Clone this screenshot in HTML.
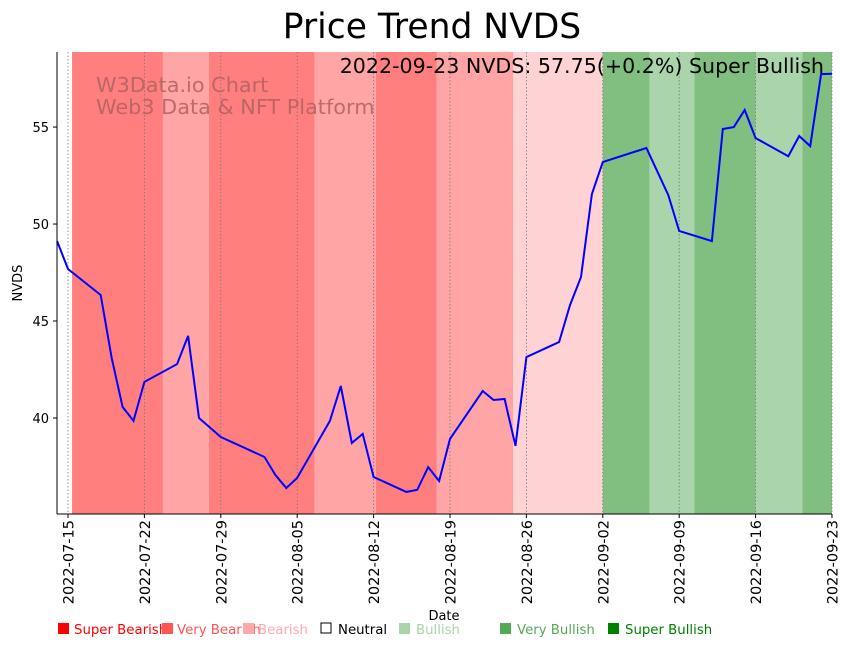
<!DOCTYPE html>
<html><head><meta charset="utf-8"><style>
body{margin:0;background:#fff;width:848px;height:646px;overflow:hidden;font-family:"Liberation Sans","DejaVu Sans",sans-serif}
</style></head><body>
<svg id="c" width="848" height="646" xmlns="http://www.w3.org/2000/svg" font-family="DejaVu Sans, Liberation Sans, sans-serif">
<text x="432" y="38" font-size="34.5" text-anchor="middle">Price Trend NVDS</text>
<g id="bands"></g>
<g id="grid"></g>
<text x="96" y="92" font-size="20.8" fill="#b06060" fill-opacity="0.85">W3Data.io Chart</text>
<text x="96" y="114" font-size="20.8" fill="#b06060" fill-opacity="0.85">Web3 Data &amp; NFT Platform</text>
<path id="line" fill="none" stroke="#0000ff" stroke-width="2"/>
<text x="824" y="73" font-size="20.6" text-anchor="end">2022-09-23 NVDS: 57.75(+0.2%) Super Bullish</text>
<g id="axes"></g>
<text x="22" y="283" font-size="13" text-anchor="middle" transform="rotate(-90 22 283)">NVDS</text>
<text x="444" y="620" font-size="13" text-anchor="middle">Date</text>
<g font-size="13.3">
<rect x="58" y="623" width="11" height="11" fill="#ff0000"/><text x="74" y="634" fill="#ff0000">Super Bearish</text>
<rect x="162" y="623" width="11" height="11" fill="#ff5555"/><text x="177" y="634" fill="#ff5555">Very Bearish</text>
<rect x="243" y="623" width="11" height="11" fill="#ffaaaa"/><text x="258" y="634" fill="#ffaaaa">Bearish</text>
<rect x="321" y="623" width="10" height="10" fill="#fff" stroke="#000"/><text x="338" y="634" fill="#000">Neutral</text>
<rect x="399" y="623" width="11" height="11" fill="#aad4aa"/><text x="416" y="634" fill="#aad4aa">Bullish</text>
<rect x="500" y="623" width="11" height="11" fill="#55aa55"/><text x="517" y="634" fill="#55aa55">Very Bullish</text>
<rect x="608" y="623" width="11" height="11" fill="#008000"/><text x="625" y="634" fill="#008000">Super Bullish</text>
</g>
</svg>
<script>
const dayOffsets=[-1,0,3,4,5,6,7,10,11,12,14,18,19,20,21,24,25,26,27,28,31,32,33,34,35,38,39,40,41,42,45,46,47,48,49,53,55,56,59,60,61,62,63,66,67,68,69,70];
const prices=[49.12,47.68,46.34,43.09,40.57,39.85,41.86,42.78,44.23,40.0,39.02,37.99,37.06,36.39,36.91,39.85,41.65,38.71,39.18,36.96,36.19,36.29,37.47,36.75,38.92,41.39,40.93,40.98,38.56,43.14,43.92,45.82,47.27,51.55,53.2,53.92,51.49,49.64,49.12,54.9,55.0,55.88,54.43,53.5,54.54,54.02,57.73,57.75];
const bandStarts=[0.37,8.7,12.9,22.6,28.2,33.8,40.8,49.0,53.3,57.4,63.0,67.3];
const bandEnds=[8.7,12.9,22.6,28.2,33.8,40.8,49.0,53.3,57.4,63.0,67.3,70];
const bandLevels=['super-bearish','very-bearish','super-bearish','very-bearish','super-bearish','very-bearish','bearish','super-bullish','bullish','super-bullish','bullish','super-bullish'];
const yTicks=[40,45,50,55];
const xTickDays=[0,7,14,21,28,35,42,49,56,63,70];
const xTickLabels=['2022-07-15','2022-07-22','2022-07-29','2022-08-05','2022-08-12','2022-08-19','2022-08-26','2022-09-02','2022-09-09','2022-09-16','2022-09-23'];
const bandColors={'super-bearish':'#ff7f7f','very-bearish':'#ffa5a5','bearish':'#ffd3d3','bullish':'#aad4aa','super-bullish':'#80bf80'};
const L=57,R=832,T=52,B=514,X0=68,PX=10.914,YMIN=35.05,YMAX=58.87;
const xs=d=>X0+d*PX;
const ys=v=>B-(v-YMIN)/(YMAX-YMIN)*(B-T);
const NS='http://www.w3.org/2000/svg';
function mk(tag,attrs,parent){const e=document.createElementNS(NS,tag);for(const k in attrs)e.setAttribute(k,attrs[k]);parent.appendChild(e);return e;}
const bands=document.getElementById('bands');
bandStarts.forEach((s,i)=>{const r=mk('rect',{x:xs(s),y:T,width:xs(bandEnds[i])-xs(s),height:B-T,fill:bandColors[bandLevels[i]]},bands);

});
const grid=document.getElementById('grid');
xTickDays.forEach(d=>{const l=mk('line',{x1:xs(d),x2:xs(d),y1:T,y2:B,stroke:'#777',"stroke-width":0.8,"stroke-dasharray":"1.5,2"},grid);

});
document.getElementById('line').setAttribute('d',dayOffsets.map((d,i)=>(i?'L':'M')+xs(d).toFixed(1)+','+ys(prices[i]).toFixed(1)).join(''));
const ax=document.getElementById('axes');
let a=mk('line',{x1:L,x2:L,y1:T,y2:B,stroke:'#000',"stroke-width":1},ax);


a=mk('line',{x1:L,x2:R,y1:B,y2:B,stroke:'#000',"stroke-width":1},ax);


yTicks.forEach(v=>{mk('line',{x1:L-4,x2:L,y1:ys(v),y2:ys(v),stroke:'#000'},ax);
const t=mk('text',{x:L-8,y:ys(v)+5,"font-size":13,"text-anchor":"end"},ax);t.textContent=v;

});
xTickDays.forEach((d,i)=>{const x=xs(d);mk('line',{x1:x,x2:x,y1:B,y2:B+4,stroke:'#000'},ax);
const t=mk('text',{x:x+5.5,y:B+6,"font-size":14.5,"text-anchor":"end",transform:`rotate(-90 ${x+5.5} ${B+6})`},ax);t.textContent=xTickLabels[i];

});
</script>
</body></html>
